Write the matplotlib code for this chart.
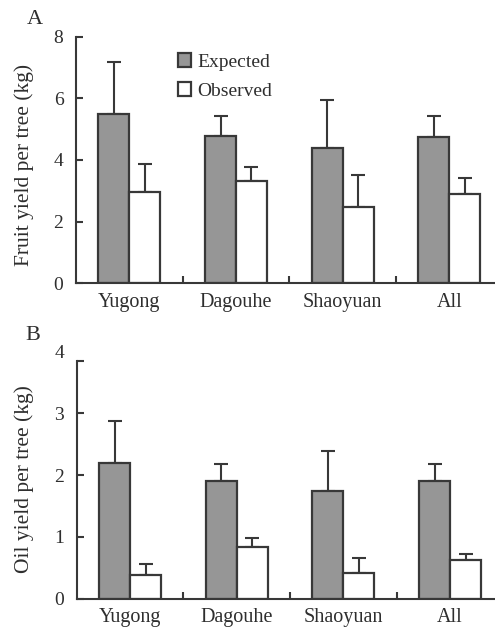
import matplotlib
matplotlib.use("Agg")
import matplotlib.pyplot as plt
import numpy as np

sites = ["Yugong", "Dagouhe", "Shaoyuan", "All"]
fruit_expected = [5.49, 4.79, 4.38, 4.75]
fruit_expected_err = [1.70, 0.65, 1.58, 0.69]
fruit_observed = [2.95, 3.31, 2.49, 2.91]
fruit_observed_err = [0.92, 0.46, 1.02, 0.50]
oil_expected = [2.19, 1.91, 1.75, 1.91]
oil_expected_err = [0.69, 0.27, 0.64, 0.27]
oil_observed = [0.38, 0.84, 0.41, 0.62]
oil_observed_err = [0.18, 0.14, 0.25, 0.11]
fruit_yticks = [0, 2, 4, 6, 8]
oil_yticks = [0, 1, 2, 3, 4]

plt.rcParams['font.family'] = ['Liberation Serif', 'DejaVu Serif']
DARK = '#383838'
GRAY = '#969696'
TXT = '#2e2e2e'

fig = plt.figure(figsize=(4.95, 6.27), dpi=100)
axA = fig.add_axes([0.1535, 0.5482, 0.862, 0.3933])
axB = fig.add_axes([0.155, 0.0451, 0.862, 0.3943])

def panel(ax, exp, exp_err, obs, obs_err, yticks, ylabel, ytop_spine, legend=False):
    x = np.arange(len(sites))
    w = 0.29
    ax.bar(x - w / 2, exp, w, color=GRAY, edgecolor=DARK, linewidth=1.6, label='Expected', zorder=2)
    ax.bar(x + w / 2, obs, w, color='white', edgecolor=DARK, linewidth=1.6, label='Observed', zorder=2)
    ax.errorbar(x - w / 2, exp, yerr=[np.zeros(len(exp)), exp_err], fmt='none',
                ecolor=DARK, elinewidth=1.5, capsize=4.8, capthick=1.5, zorder=1)
    ax.errorbar(x + w / 2, obs, yerr=[np.zeros(len(obs)), obs_err], fmt='none',
                ecolor=DARK, elinewidth=1.5, capsize=4.8, capthick=1.5, zorder=1)
    ax.set_xlim(-0.5, len(sites) - 0.5)
    ax.set_ylim(yticks[0], yticks[-1])
    ax.set_yticks(yticks)
    ax.set_xticks(x)
    ax.set_xticklabels(sites)
    ax.set_xticks(x[:-1] + 0.5, minor=True)
    ax.tick_params(axis='x', which='major', length=0, pad=7, labelsize=14.5, labelcolor=TXT)
    ax.tick_params(axis='x', which='minor', length=5, direction='in', width=1.5, color=DARK)
    ax.tick_params(axis='y', which='major', length=5, direction='in', width=1.5, color=DARK,
                   pad=9, labelsize=14, labelcolor=TXT)
    for s in ['top', 'right']:
        ax.spines[s].set_visible(False)
    for s in ['left', 'bottom']:
        ax.spines[s].set_linewidth(1.5)
        ax.spines[s].set_color(DARK)
    ax.spines['left'].set_bounds(yticks[0], ytop_spine)
    if ytop_spine < yticks[-1]:
        # top tick mark sits at the end of the shortened axis line, below its label
        ax.yaxis.get_major_ticks()[-1].tick1line.set_visible(False)
        ax.set_yticks([ytop_spine], minor=True)
        ax.tick_params(axis='y', which='minor', length=5, direction='in', width=1.5, color=DARK)
    ax.set_ylabel(ylabel, fontsize=15.5, color=TXT)
    if legend:
        ax.legend(loc='upper left', bbox_to_anchor=(0.22, 0.965), frameon=False, fontsize=14,
                  handlelength=0.7, handleheight=0.7, handletextpad=0.3, labelspacing=0.6,
                  labelcolor=TXT, borderaxespad=0)

panel(axA, fruit_expected, fruit_expected_err, fruit_observed, fruit_observed_err,
      fruit_yticks, 'Fruit yield per tree (kg)', 8, legend=True)
panel(axB, oil_expected, oil_expected_err, oil_observed, oil_observed_err,
      oil_yticks, 'Oil yield per tree (kg)', 3.85)
axA.yaxis.set_label_coords(-0.098, 0.478)
axB.yaxis.set_label_coords(-0.100, 0.486)

fig.text(35 / 495, 1 - 19.5 / 627, 'A', fontsize=16, ha='center', va='center', color=TXT)
fig.text(33 / 495, 1 - 335.5 / 627, 'B', fontsize=16, ha='center', va='center', color=TXT)

fig.savefig('out.png', dpi=100)
